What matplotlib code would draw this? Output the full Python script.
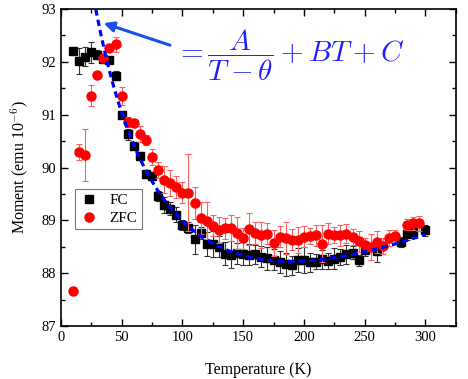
import numpy as np
import matplotlib
matplotlib.use("Agg")
import matplotlib.pyplot as plt
from matplotlib.ticker import MultipleLocator

plt.rcParams['font.family'] = ['Liberation Serif', 'DejaVu Serif']
plt.rcParams['mathtext.fontset'] = 'cm'

# FC data (field cooled)
fc_T = [10, 15, 20, 25, 30, 35, 40, 45, 50, 55, 60, 65, 70, 75, 80, 85, 90, 95,
        100, 105, 110, 115, 120, 125, 130, 135, 140, 145, 150, 155, 160, 165,
        170, 175, 180, 185, 190, 195, 200, 205, 210, 215, 220, 225, 230, 235,
        240, 245, 250, 260, 280, 285, 290, 300]
fc_M = [92.21, 92.02, 92.10, 92.18, 92.14, 92.06, 92.03, 91.74, 91.00, 90.63,
        90.41, 90.22, 89.88, 89.84, 89.46, 89.29, 89.22, 89.11, 88.91, 88.86,
        88.64, 88.76, 88.55, 88.55, 88.50, 88.37, 88.35, 88.38, 88.37, 88.35,
        88.36, 88.31, 88.28, 88.25, 88.21, 88.17, 88.15, 88.25, 88.25, 88.21,
        88.22, 88.26, 88.23, 88.27, 88.31, 88.36, 88.39, 88.24, 88.44, 88.42,
        88.59, 88.75, 88.78, 88.81]
fc_err = [0.05, 0.25, 0.18, 0.20, 0.08, 0.06, 0.05, 0.08, 0.06, 0.10,
          0.06, 0.08, 0.07, 0.08, 0.10, 0.15, 0.12, 0.15, 0.10, 0.10,
          0.27, 0.12, 0.22, 0.24, 0.20, 0.22, 0.25, 0.20, 0.22, 0.20,
          0.18, 0.20, 0.22, 0.20, 0.20, 0.22, 0.18, 0.22, 0.25, 0.18,
          0.15, 0.18, 0.15, 0.20, 0.15, 0.18, 0.12, 0.10, 0.12, 0.20,
          0.10, 0.12, 0.10, 0.10]

# ZFC data (zero field cooled)
zfc_T = [10, 15, 20, 25, 30, 35, 40, 45, 50, 55, 60, 65, 70, 75, 80, 85, 90, 95,
         100, 105, 110, 115, 120, 125, 130, 135, 140, 145, 150, 155, 160, 165,
         170, 175, 180, 185, 190, 195, 200, 205, 210, 215, 220, 225, 230, 235,
         240, 245, 250, 255, 260, 265, 270, 275, 285, 290, 295]
zfc_M = [87.66, 90.29, 90.24, 91.36, 91.76, 92.08, 92.27, 92.33, 91.36, 90.86,
         90.84, 90.64, 90.52, 90.20, 89.96, 89.77, 89.71, 89.63, 89.52, 89.52,
         89.33, 89.05, 88.99, 88.90, 88.82, 88.85, 88.86, 88.76, 88.66, 88.83,
         88.76, 88.72, 88.75, 88.57, 88.69, 88.66, 88.63, 88.63, 88.69, 88.70,
         88.72, 88.56, 88.75, 88.73, 88.72, 88.75, 88.69, 88.60, 88.54, 88.50,
         88.59, 88.52, 88.66, 88.70, 88.92, 88.94, 88.94]
zfc_err = [0.07, 0.15, 0.49, 0.20, 0.05, 0.05, 0.05, 0.15, 0.17, 0.10,
           0.08, 0.15, 0.10, 0.15, 0.15, 0.25, 0.25, 0.20, 0.20, 0.73,
           0.30, 0.30, 0.35, 0.20, 0.25, 0.20, 0.25, 0.30, 0.20, 0.30,
           0.20, 0.25, 0.20, 0.25, 0.20, 0.30, 0.20, 0.25, 0.20, 0.15,
           0.20, 0.35, 0.20, 0.15, 0.20, 0.18, 0.15, 0.20, 0.12, 0.25,
           0.20, 0.15, 0.15, 0.12, 0.10, 0.12, 0.15]

# points
fit_T = [28.8, 50, 100, 150, 175, 192, 208, 225, 233, 253, 273, 297]
fit_M = [93.0, 91.03, 89.0, 88.37, 88.23, 88.21, 88.23, 88.28, 88.31, 88.42, 88.55, 88.72]

# fit A/(T-theta) + B*T + C
fT = np.array(fit_T)
fM = np.array(fit_M)
best = None
for theta in np.arange(-150, 20, 0.5):
    X = np.column_stack([1.0 / (fT - theta), fT, np.ones_like(fT)])
    coef, res, _, _ = np.linalg.lstsq(X, fM, rcond=None)
    r = np.sum((X @ coef - fM) ** 2)
    if best is None or r < best[0]:
        best = (r, theta, coef)
_, theta, (A, B, C) = best
Tc = np.linspace(22, 300, 400)
Mc = A / (Tc - theta) + B * Tc + C

fig = plt.figure(figsize=(4.68, 3.79), dpi=100)
ax = fig.add_axes([0.130, 0.140, 0.844, 0.836])

ax.errorbar(fc_T, fc_M, yerr=fc_err, fmt='s', color='black', ms=5.8,
            ecolor='#333333', elinewidth=0.8, capsize=2.5, capthick=0.8,
            zorder=2)
ax.errorbar(zfc_T, zfc_M, yerr=zfc_err, fmt='o', color='#ff0000', ms=6.5,
            ecolor='#ff6060', elinewidth=0.8, capsize=2.5, capthick=0.8,
            zorder=3)
ax.plot(Tc, Mc, color='#0000ff', lw=2.3, dashes=(2.0, 1.3), zorder=4)

# legend handles (markers only)
ax.plot([], [], 's', color='black', ms=5.8, label='FC')
ax.plot([], [], 'o', color='#ff0000', ms=6.5, label='ZFC')

ax.set_xlim(0, 325)
ax.set_ylim(87, 93)
ax.xaxis.set_major_locator(MultipleLocator(50))
ax.xaxis.set_minor_locator(MultipleLocator(25))
ax.yaxis.set_major_locator(MultipleLocator(1))
ax.yaxis.set_minor_locator(MultipleLocator(0.5))
ax.tick_params(which='both', direction='in', top=True, right=True,
               labelsize=10.5, width=1.0)
ax.tick_params(which='major', length=5)
ax.tick_params(which='minor', length=3)
ax.set_xticks([0, 50, 100, 150, 200, 250, 300])
for s in ax.spines.values():
    s.set_linewidth(1.2)

ax.set_xlabel('Temperature (K)', fontsize=11.5, labelpad=13)
ax.set_ylabel('Moment (emu 10$^{-6}$)', fontsize=11.5, labelpad=8)

leg = ax.legend(loc='upper left', bbox_to_anchor=(0.035, 0.432),
                borderaxespad=0, fontsize=11,
                frameon=True, fancybox=False, edgecolor='#555555',
                handletextpad=0.7, borderpad=0.3, labelspacing=0.25,
                handlelength=1.3)
leg.get_frame().set_linewidth(0.8)

ax.annotate('', xy=(33, 92.75), xytext=(92, 92.3),
            arrowprops=dict(arrowstyle='-|>', color='#1a50e8', lw=2.2,
                            mutation_scale=15))
ax.text(94, 92.13, r'$=\dfrac{A}{T-\theta}+BT+C$', color='#2020ff',
        fontsize=21, va='center', ha='left')

fig.savefig('out.png', dpi=100)
